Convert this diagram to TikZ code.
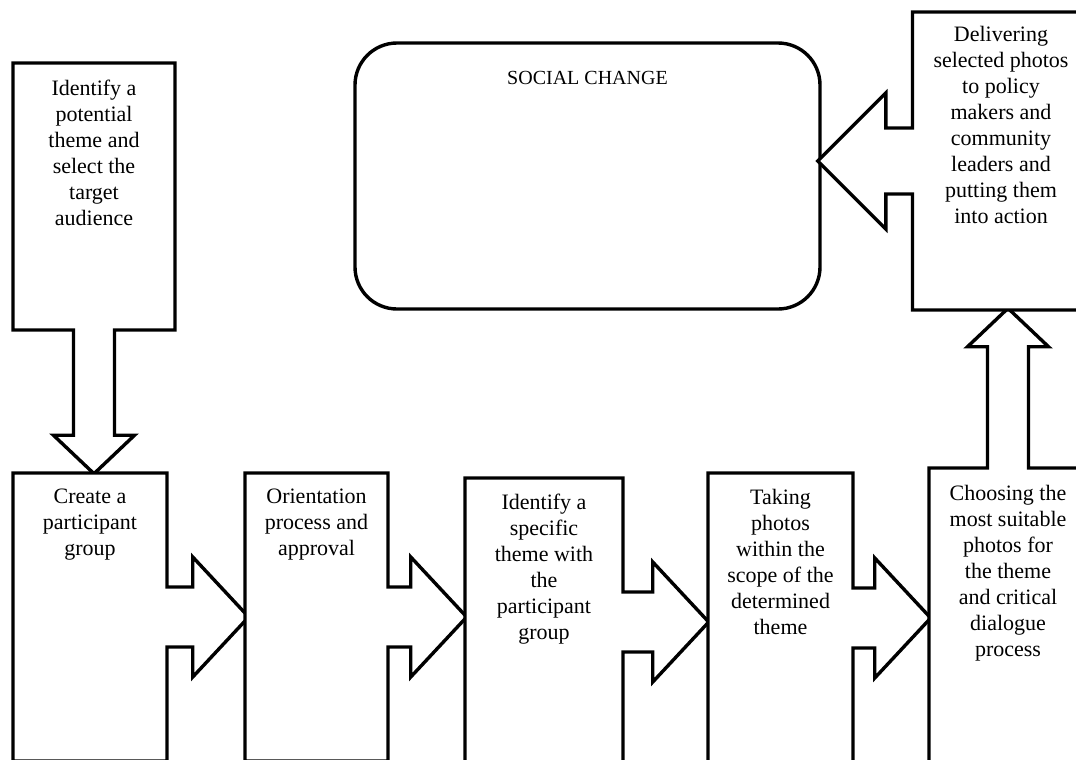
\documentclass[tikz,border=0pt]{standalone}
\usepackage{fontspec}
\setmainfont{Liberation Serif}
\usetikzlibrary{shapes.arrows}

\begin{document}
\begin{tikzpicture}[x=1pt, y=-1pt, line width=3.4pt,
    stage/.style={arrow box, draw, fill=white, inner sep=0pt,
      arrow box arrows={north:0pt, south:0pt, east:0pt, west:0pt}},
    wide/.style={arrow box shaft width=60pt, arrow box head extend=30pt, arrow box tip angle=94},
    thin/.style={arrow box shaft width=41pt, arrow box head extend=20pt, arrow box tip angle=93},
    caption/.style={anchor=north, align=center, inner sep=0pt, font=\fontsize{22}{26}\selectfont}]
  \useasboundingbox (0,0) rectangle (1076,760);

  % goal
  \node[draw, rounded corners=42pt, minimum width=465pt, minimum height=266pt] (social) at (587.5,176) {};
  \node[caption, font=\fontsize{20}{24}\selectfont] (social-t) at ([yshift=-28pt]social.north) {SOCIAL CHANGE};

  % steps
  \node[stage, thin, minimum width=162pt, minimum height=267pt, arrow box arrows={south:142pt}] (theme) at (94,196.5) {};
  \node[stage, wide, minimum width=154pt, minimum height=288pt, arrow box arrows={east:80pt}] (group) at (90,617) {};
  \node[stage, wide, minimum width=143pt, minimum height=288pt, arrow box arrows={east:77pt}] (orient) at (316.5,617) {};
  \node[stage, wide, minimum width=158pt, minimum height=288pt, arrow box arrows={east:84pt}] (specific) at (544,622) {};
  \node[stage, wide, minimum width=145pt, minimum height=290pt, arrow box arrows={east:76pt}] (shoot) at (780.5,618) {};
  \node[stage, thin, minimum width=158pt, minimum height=300pt, arrow box arrows={north:158pt}] (choose) at (1008,618) {};
  \node[stage, minimum width=177pt, minimum height=298pt, arrow box shaft width=66pt, arrow box head extend=35pt,
    arrow box arrows={west:93pt}] (deliver) at (1001,161) {};

  \node[caption] (theme-t) at ([yshift=-17pt]theme.north) {Identify a\\potential\\theme and\\select the\\target\\audience};
  \node[caption] (group-t) at ([yshift=-16pt]group.north) {Create a\\participant\\group};
  \node[caption] (orient-t) at ([yshift=-16pt]orient.north) {Orientation\\process and\\approval};
  \node[caption] (specific-t) at ([yshift=-16pt]specific.north) {Identify a\\specific\\theme with\\the\\participant\\group};
  \node[caption] (shoot-t) at ([yshift=-16pt]shoot.north) {Taking\\photos\\within the\\scope of the\\determined\\theme};
  \node[caption] (choose-t) at ([yshift=134pt]choose.center) {Choosing the\\most suitable\\photos for\\the theme\\and critical\\dialogue\\process};
  \node[caption] (deliver-t) at ([yshift=-14pt]deliver.north) {Delivering\\selected photos\\to policy\\makers and\\community\\leaders and\\putting them\\into action};
\end{tikzpicture}
\end{document}
